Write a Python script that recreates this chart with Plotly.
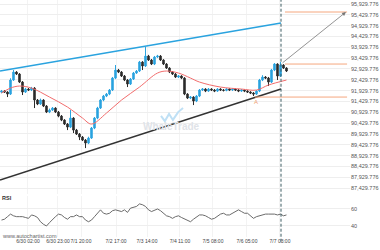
import plotly.graph_objects as go

# ---- data ----
bars = list(range(96))
opens = [91860, 91909, 91863, 91771, 92418, 92787, 92695, 92325, 91863, 92002,
         91956, 92048, 91494, 91309, 91494, 91216, 90939, 91031, 91124, 90939,
         90754, 90569, 90385, 90246, 90662, 90107, 89923, 89784, 89645, 89507,
         89738, 90200, 90662, 91124, 91494, 91678, 91771, 91956, 92510, 92880,
         92787, 92603, 92418, 92233, 92464, 92741, 92834, 93249, 93065, 93527,
         93342, 93157, 93481, 93527, 93342, 93157, 92972, 92787, 92695, 92556,
         92603, 92510, 91771, 91586, 91632, 91447, 91678, 91956, 92002, 91909,
         92002, 91956, 91909, 92002, 91956, 91940, 92002, 91956, 92002, 91956,
         91909, 91956, 91909, 91863, 91817, 91771, 91909, 92418, 92556, 92510,
         92325, 92880, 93157, 92603, 93111, 92972]
closes = [91909, 91863, 91771, 92418, 92787, 92695, 92325, 91863, 92002, 91956,
          92048, 91494, 91309, 91494, 91216, 90939, 91031, 91124, 90939, 90754,
          90569, 90385, 90246, 90662, 90107, 89923, 89784, 89645, 89507, 89738,
          90200, 90662, 91124, 91494, 91678, 91771, 91956, 92510, 92880, 92787,
          92603, 92418, 92233, 92464, 92741, 92834, 93249, 93065, 93527, 93342,
          93157, 93481, 93527, 93342, 93157, 92972, 92787, 92695, 92556, 92603,
          92510, 91771, 91586, 91632, 91447, 91678, 91956, 92002, 91909, 92002,
          91956, 91909, 92002, 91956, 91940, 92002, 91956, 92002, 91956, 91909,
          91956, 91909, 91863, 91817, 91771, 91909, 92418, 92556, 92510, 92325,
          92880, 93157, 92603, 93111, 92972, 92834]
highs = [91960, 91950, 91900, 92500, 92880, 92830, 92740, 92370, 92060, 92050,
         92100, 92090, 91540, 91560, 91530, 91260, 91100, 91170, 91160, 90990,
         90800, 90610, 90430, 91031, 90700, 90160, 89970, 89830, 89690, 89800,
         90250, 90710, 91180, 91540, 91730, 91820, 92000, 92560, 93111, 92930,
         92830, 92650, 92460, 92510, 92790, 92880, 93300, 93290, 93943, 93580,
         93390, 93530, 93580, 93570, 93380, 93200, 93010, 92830, 92740, 92650,
         92640, 92550, 91810, 91680, 91670, 91720, 92000, 92050, 92040, 92050,
         92040, 92000, 92040, 92040, 92000, 92040, 92040, 92050, 92040, 92000,
         92000, 91990, 91950, 91900, 91860, 91950, 92470, 92640, 92600, 92560,
         92930, 93200, 93190, 93249, 93150, 93010]
lows = [91810, 91820, 91632, 91730, 92380, 92650, 92280, 91725, 91820, 91910,
        91910, 91124, 91260, 91270, 91170, 90893, 90890, 90990, 90893, 90700,
        90520, 90340, 90107, 90200, 89969, 89880, 89645, 89600, 89275, 89460,
        89700, 90150, 90610, 91080, 91440, 91630, 91720, 91910, 92460, 92740,
        92560, 92370, 92094, 92190, 92420, 92700, 92790, 92880, 93020, 93300,
        93110, 93110, 93440, 93300, 93110, 92930, 92740, 92650, 92510, 92510,
        92460, 91720, 91540, 91540, 91262, 91400, 91630, 91910, 91860, 91870,
        91910, 91860, 91870, 91910, 91890, 91900, 91910, 91910, 91910, 91860,
        91870, 91860, 91820, 91770, 91678, 91730, 91860, 92370, 92460, 92141,
        92280, 92830, 92418, 92560, 92930, 92790]

ma_bars = [0, 3, 6, 10, 16, 22, 27, 30, 35, 40, 46, 52, 55, 59, 63, 66, 73, 80, 85, 89, 95]
ma_vals = [91817, 92048, 92141, 92048, 91632, 91170, 90662, 90385, 90893, 91494, 92094,
           92741, 92834, 92741, 92510, 92325, 92094, 92002, 91956, 92187, 92418]

rsi_vals = [47, 48, 51, 54, 52, 51, 51, 51, 50, 49, 53, 52, 50, 45, 42, 40, 44, 48, 51, 54,
            53, 50, 48, 51, 51, 53, 51, 51, 47, 45, 47, 51, 55, 59, 55, 54, 55, 58, 59, 58,
            57, 59, 56, 61, 62, 63, 66, 65, 63, 59, 57, 59, 60, 58, 55, 52, 51, 49, 51, 52,
            50, 48, 46, 45, 48, 51, 53, 53, 52, 50, 48, 49, 52, 54, 55, 53, 53, 55, 58, 59,
            57, 55, 55, 52, 49, 51, 52, 53, 54, 54, 54, 54, 53, 54, 52, 53]

upper_line_x = [-0.5, 93.17]
upper_line_y = [92834, 95052]
lower_line_x = [-0.5, 93.17]
lower_line_y = [87797, 92002]

target_level = 95560
breakout_level = 93157
support_level = 91632
levels_x_start = 94.5
support_x_start = 84.5
levels_x_end = 115.2
breakout_bar = 93.17
arrow_end_bar = 114.83

price_ticks = [87429.776 + 500 * k for k in range(18)]
x_tick_vals = [8.83, 18.83, 26.5, 38.17, 48.5, 59.5, 70.5, 81.83, 92.83]
x_tick_text = ["6/30 02:00", "6/30 23:00", "7/1 20:00", "7/2 17:00", "7/3 14:00",
               "7/4 11:00", "7/5 08:00", "7/6 05:00", "7/7 03:00"]

BLUE = "#2aa3df"
DARK = "#2b2b2b"
ORANGE = "#f5a77e"
GRID = "#eeeeee"

fig = go.Figure()

fig.add_trace(go.Candlestick(
    x=bars, open=opens, high=highs, low=lows, close=closes,
    increasing=dict(line=dict(color=BLUE, width=1), fillcolor=BLUE),
    decreasing=dict(line=dict(color=DARK, width=1), fillcolor=DARK),
    whiskerwidth=0, xaxis="x", yaxis="y", showlegend=False, hoverinfo="skip"))

fig.add_trace(go.Scatter(x=ma_bars, y=ma_vals, mode="lines", line=dict(color="#f26d6d", width=1, shape="spline"),
                         xaxis="x", yaxis="y", showlegend=False, hoverinfo="skip"))

fig.add_trace(go.Scatter(x=upper_line_x, y=upper_line_y, mode="lines", line=dict(color=BLUE, width=1.6),
                         xaxis="x", yaxis="y", showlegend=False, hoverinfo="skip"))
fig.add_trace(go.Scatter(x=lower_line_x, y=lower_line_y, mode="lines", line=dict(color="#333333", width=1.6),
                         xaxis="x", yaxis="y", showlegend=False, hoverinfo="skip"))

for lvl, xs in [(target_level, levels_x_start), (breakout_level, levels_x_start), (support_level, support_x_start)]:
    fig.add_trace(go.Scatter(x=[xs, levels_x_end], y=[lvl, lvl], mode="lines",
                             line=dict(color=ORANGE, width=1), xaxis="x", yaxis="y",
                             showlegend=False, hoverinfo="skip"))

fig.add_trace(go.Scatter(x=bars, y=rsi_vals, mode="lines", line=dict(color="#5a5a5a", width=0.9),
                         xaxis="x", yaxis="y2", showlegend=False, hoverinfo="skip"))

# arrow
fig.add_annotation(x=arrow_end_bar, y=target_level, ax=breakout_bar, ay=breakout_level,
                   xref="x", yref="y", axref="x", ayref="y", text="", showarrow=True,
                   arrowhead=2, arrowsize=1, arrowwidth=0.8, arrowcolor="#777777")

# vertical dashed line
fig.add_shape(type="line", xref="x", yref="paper", x0=breakout_bar, x1=breakout_bar, y0=-0.02, y1=1,
              line=dict(color="#3d5c62", width=1, dash="3px,2px"))

# label A
fig.add_annotation(x=84.8, y=91401, xref="x", yref="y", text="A", showarrow=False,
                   font=dict(size=6, color="#f0a070", family="Arial"))

# watermark
fig.add_annotation(x=0.489, y=0.468, xref="paper", yref="paper", text="<b>WhaleTrade</b>", showarrow=False,
                   font=dict(size=10, color="#dfe3e8", family="Arial"))
fig.add_shape(type="path", xref="paper", yref="paper",
              path="M 0.460 0.511 L 0.471 0.489 L 0.483 0.519 L 0.494 0.494 L 0.509 0.527 L 0.523 0.544",
              line=dict(color="#bfe0f5", width=2))

fig.add_annotation(x=0, y=0.165, xref="paper", yref="paper", text="<b>RSI</b>", showarrow=False,
                   xanchor="left", yanchor="middle", font=dict(size=5.5, color="#333333", family="Arial"))
fig.add_annotation(x=0, y=0.004, xref="paper", yref="paper", text="www.autochartist.com", showarrow=False,
                   xanchor="left", yanchor="middle", font=dict(size=5.5, color="#666666", family="Arial"))

fig.update_layout(
    width=380, height=250,
    margin=dict(l=0, r=30, t=0, b=13),
    paper_bgcolor="white", plot_bgcolor="white",
    font=dict(family="Arial", color="#555555"),
    xaxis=dict(range=[-0.5, 116.17], anchor="y2", showgrid=True, gridcolor="#f3f3f3", gridwidth=1,
               tickvals=x_tick_vals, ticktext=x_tick_text, tickfont=dict(size=5, color="#444444"),
               tickangle=0, ticks="", zeroline=False, showline=False,
               rangeslider=dict(visible=False), fixedrange=True),
    yaxis=dict(domain=[0.181, 1], range=[87149.9, 96114.6], side="right", anchor="x",
               tickvals=price_ticks, tickformat=",.3f", tickfont=dict(size=5.5, color="#555555"),
               showgrid=True, gridcolor=GRID, zeroline=False, showline=False, ticks=""),
    yaxis2=dict(domain=[0, 0.173], range=[27.06, 75.3], side="right", anchor="x",
                tickvals=[40, 60], tickfont=dict(size=5.5, color="#555555"),
                showgrid=True, gridcolor=GRID, zeroline=False, showline=False, ticks=""),
)

fig.write_html("out.html")
